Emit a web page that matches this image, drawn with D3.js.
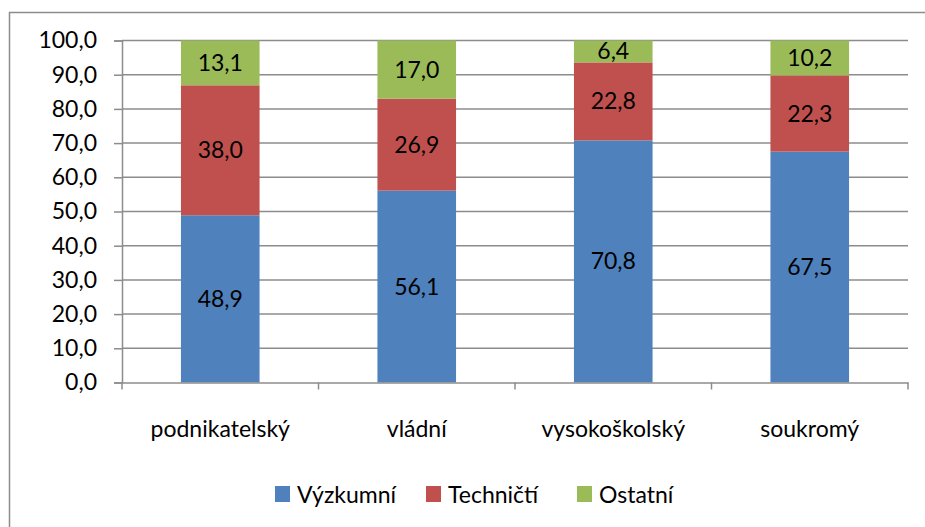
<!DOCTYPE html>
<html>
<head>
<meta charset="utf-8">
<script src="https://cdn.jsdelivr.net/npm/d3@7"></script>
<style>
  body { margin: 0; background: #fff; }
  svg text { font-family: Lato, 'Open Sans', sans-serif; fill: #000; }
</style>
</head>
<body>
<div id="chart"></div>
<script>
const categories = ['podnikatelský', 'vládní', 'vysokoškolský', 'soukromý'];
const seriesNames = ['Výzkumní', 'Techničtí', 'Ostatní'];
const vyzkumni = [48.9, 56.1, 70.8, 67.5];
const technicti = [38.0, 26.9, 22.8, 22.3];
const ostatni = [13.1, 17.0, 6.4, 10.2];
const yTicks = [0, 10, 20, 30, 40, 50, 60, 70, 80, 90, 100];
const colors = ['#4f81bd', '#c0504d', '#9bbb59'];

const width = 925,
  height = 527;
const margin = { left: 122, right: 17, top: 40.5, bottom: 144.5 };
const fontSize = 23;

const svg = d3.select('#chart').append('svg').attr('width', width).attr('height', height);

// outer chart frame
svg
  .append('rect')
  .attr('x', 9.5)
  .attr('y', 12.5)
  .attr('width', 940)
  .attr('height', 540)
  .attr('fill', 'none')
  .attr('stroke', '#8c8c8c')
  .attr('stroke-width', 1.5);

const rows = categories.map((c, i) => ({
  cat: c,
  'Výzkumní': vyzkumni[i],
  'Techničtí': technicti[i],
  'Ostatní': ostatni[i],
}));
const stacked = d3.stack().keys(seriesNames)(rows);

const x = d3
  .scaleBand()
  .domain(categories)
  .range([margin.left, width - margin.right])
  .paddingInner(0.6)
  .paddingOuter(0.3);

const y = d3
  .scaleLinear()
  .domain([0, 100])
  .range([height - margin.bottom, margin.top]);

// gridlines
svg
  .append('g')
  .selectAll('line')
  .data(yTicks.filter((t) => t > 0))
  .join('line')
  .attr('x1', margin.left)
  .attr('x2', width - margin.right)
  .attr('y1', (d) => y(d))
  .attr('y2', (d) => y(d))
  .attr('stroke', '#8c8c8c')
  .attr('stroke-width', 1.5);

// y axis
const yAxis = svg
  .append('g')
  .attr('transform', `translate(${margin.left},0)`)
  .call(
    d3
      .axisLeft(y)
      .tickValues(yTicks)
      .tickSize(8)
      .tickPadding(17)
      .tickFormat((d) => d3.format('.1f')(d).replace('.', ','))
  );
yAxis.select('.domain').attr('stroke', '#8c8c8c').attr('stroke-width', 1.5);
yAxis.selectAll('.tick line').attr('stroke', '#8c8c8c').attr('stroke-width', 1.5);
yAxis.selectAll('.tick text').attr('font-size', fontSize).style('font-family', 'Lato, sans-serif');

// bars
svg
  .append('g')
  .selectAll('g')
  .data(stacked)
  .join('g')
  .attr('fill', (d, i) => colors[i])
  .selectAll('rect')
  .data((d) => d)
  .join('rect')
  .attr('x', (d) => x(d.data.cat))
  .attr('width', x.bandwidth())
  .attr('y', (d) => y(d[1]))
  .attr('height', (d) => y(d[0]) - y(d[1]));

// value labels
svg
  .append('g')
  .selectAll('g')
  .data(stacked)
  .join('g')
  .selectAll('text')
  .data((d) => d)
  .join('text')
  .attr('x', (d) => x(d.data.cat) + x.bandwidth() / 2)
  .attr('y', (d) => (y(d[0]) + y(d[1])) / 2)
  .attr('dy', '0.35em')
  .attr('text-anchor', 'middle')
  .attr('font-size', fontSize)
  .text((d) => d3.format('.1f')(d[1] - d[0]).replace('.', ','));

// x axis
const xAxis = svg
  .append('g')
  .attr('transform', `translate(0,${y(0)})`)
  .call(d3.axisBottom(x).tickSize(0).tickPadding(38));
xAxis.select('.domain').attr('stroke', '#8c8c8c').attr('stroke-width', 1.5);
xAxis.selectAll('.tick text').attr('font-size', fontSize).style('font-family', 'Lato, sans-serif');

// category boundary ticks
const bounds = d3.range(categories.length + 1).map((i) => margin.left + i * x.step());
svg
  .append('g')
  .selectAll('line')
  .data(bounds)
  .join('line')
  .attr('x1', (d) => d)
  .attr('x2', (d) => d)
  .attr('y1', y(0))
  .attr('y2', y(0) + 7)
  .attr('stroke', '#8c8c8c')
  .attr('stroke-width', 1.5);

// legend
const legendX = [275, 426, 577];
const legend = svg
  .append('g')
  .selectAll('g')
  .data(seriesNames)
  .join('g')
  .attr('transform', (d, i) => `translate(${legendX[i]},486)`);
legend
  .append('rect')
  .attr('width', 15)
  .attr('height', 16)
  .attr('fill', (d, i) => colors[i]);
legend
  .append('text')
  .attr('x', 22)
  .attr('y', 8)
  .attr('dy', '0.38em')
  .attr('font-size', fontSize)
  .text((d) => d);
</script>
</body>
</html>
